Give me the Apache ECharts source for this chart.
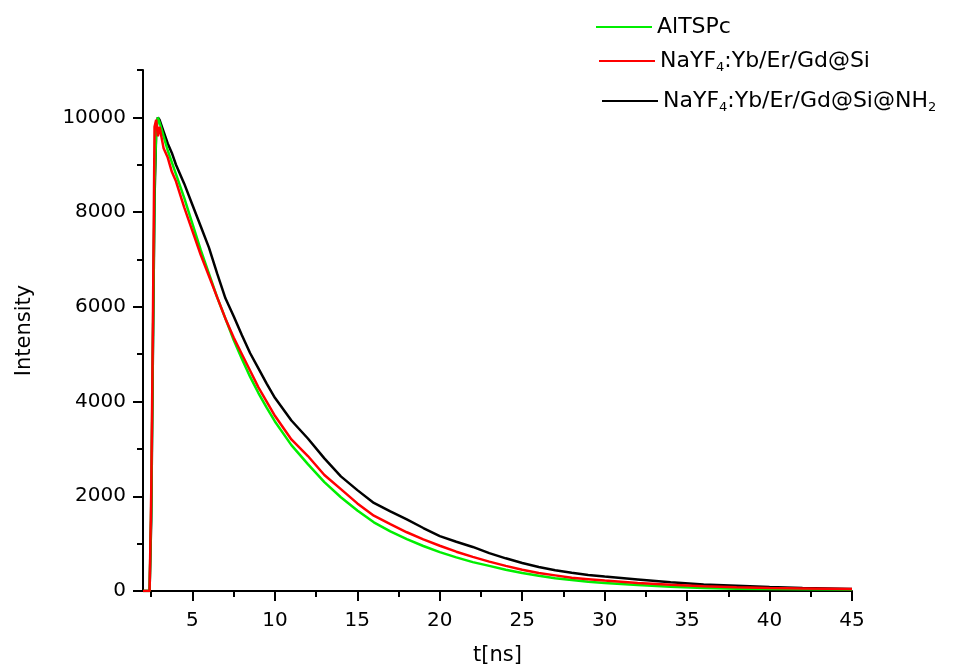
<!DOCTYPE html>
<html>
<head>
<meta charset="utf-8">
<script src="https://cdn.jsdelivr.net/npm/echarts@6/dist/echarts.min.js"></script>
<style>html,body{margin:0;padding:0;background:#fff;}#c{width:972px;height:671px;}</style>
</head>
<body>
<div id="c"></div>
<script>
var times = [2, 2.4, 2.5, 2.6, 2.7, 2.8, 2.9, 3.0, 3.25, 3.5, 3.75, 4, 4.5, 5, 5.5, 6, 6.5, 7, 7.5, 8, 8.5, 9, 9.5, 10, 11, 12, 13, 14, 15, 16, 17, 18, 19, 20, 21, 22, 23, 24, 25, 26, 27, 28, 29, 30, 32, 34, 36, 38, 40, 42, 45];
var alTSPc = [0, 0, 1800, 5200, 8600, 9700, 10000, 9900, 9600, 9300, 9050, 8800, 8300, 7750, 7200, 6700, 6200, 5750, 5300, 4900, 4520, 4180, 3870, 3580, 3080, 2680, 2300, 1980, 1700, 1450, 1260, 1095, 950, 820, 710, 610, 530, 450, 380, 320, 270, 230, 195, 170, 125, 90, 65, 50, 40, 35, 30];
var naSi = [0, 0, 2100, 5600, 9800, 9950, 9600, 9800, 9350, 9150, 8850, 8650, 8100, 7600, 7100, 6650, 6200, 5750, 5350, 5000, 4650, 4300, 4000, 3700, 3200, 2850, 2450, 2150, 1850, 1590, 1410, 1240, 1090, 955, 830, 720, 620, 530, 450, 380, 330, 280, 250, 220, 170, 130, 100, 80, 65, 55, 40];
var naSiNH2 = [0, 0, 1500, 5000, 8300, 9700, 10000, 9950, 9700, 9450, 9250, 9000, 8600, 8150, 7700, 7250, 6700, 6180, 5800, 5400, 5020, 4700, 4380, 4080, 3600, 3220, 2800, 2420, 2130, 1860, 1680, 1510, 1330, 1160, 1040, 930, 800, 690, 590, 505, 440, 385, 340, 305, 245, 185, 135, 110, 85, 65, 42];
var xMajor = [5, 10, 15, 20, 25, 30, 35, 40, 45];
var xMinor = [2.5, 7.5, 12.5, 17.5, 22.5, 27.5, 32.5, 37.5, 42.5];
var yMajor = [0, 2000, 4000, 6000, 8000, 10000];
var yMinor = [1000, 3000, 5000, 7000, 9000, 11000];
var names = ['AlTSPc', 'NaYF4:Yb/Er/Gd@Si', 'NaYF4:Yb/Er/Gd@Si@NH2'];

function pairs(v){ return times.map(function(t,i){ return [t, v[i]]; }); }
var FONT = 'DejaVu Sans';
function fmt(n){ return n.replace('F4', 'F{sub|4}').replace(/NH2$/, 'NH{sub|2}'); }
function legendAt(name, left, top){
  return {
    data: [name], left: left, top: top, orient: 'vertical',
    icon: 'rect', itemWidth: 56, itemHeight: 2, padding: 0,
    formatter: fmt,
    textStyle: {
      fontFamily: FONT, fontSize: 22, color: '#000', lineHeight: 26,
      rich: { sub: { fontFamily: FONT, fontSize: 13, lineHeight: 26, verticalAlign: 'bottom', padding: [12, 0, 0, 0] } }
    }
  };
}
var axisLine = { show: true, lineStyle: { color: '#000', width: 2 } };
var chart = echarts.init(document.getElementById('c'), null, { renderer: 'canvas' });
chart.setOption({
  animation: false,
  backgroundColor: '#fff',
  grid: { left: 143, right: 120, top: 70, bottom: 79, containLabel: false },
  legend: [
    legendAt(names[0], 596, 14),
    legendAt(names[1], 599, 48),
    legendAt(names[2], 602, 88)
  ],
  xAxis: [{
    type: 'value', min: 2, max: 45, position: 'bottom',
    name: 't[ns]', nameLocation: 'middle', nameGap: 54,
    nameTextStyle: { fontFamily: FONT, fontSize: 21, color: '#000' },
    axisLine: axisLine,
    axisTick: { show: true, inside: false, length: 10, customValues: xMajor, lineStyle: { color: '#000', width: 2 } },
    axisLabel: { show: true, customValues: xMajor, margin: 20, fontFamily: FONT, fontSize: 20, color: '#000', formatter: function(v){ return String(v); } },
    splitLine: { show: false }
  }, {
    type: 'value', min: 2, max: 45, position: 'bottom',
    axisLine: { show: false },
    axisTick: { show: true, inside: false, length: 6, customValues: xMinor, lineStyle: { color: '#000', width: 2 } },
    axisLabel: { show: false },
    splitLine: { show: false }
  }],
  yAxis: [{
    type: 'value', min: 0, max: 11000, position: 'left',
    name: 'Intensity', nameLocation: 'middle', nameGap: 108,
    nameTextStyle: { fontFamily: FONT, fontSize: 21, color: '#000' },
    axisLine: axisLine,
    axisTick: { show: true, inside: false, length: 10, customValues: yMajor, lineStyle: { color: '#000', width: 2 } },
    axisLabel: { show: true, customValues: yMajor, margin: 17, fontFamily: FONT, fontSize: 20, color: '#000', formatter: function(v){ return String(v); } },
    splitLine: { show: false }
  }, {
    type: 'value', min: 0, max: 11000, position: 'left',
    axisLine: { show: false },
    axisTick: { show: true, inside: false, length: 6, customValues: yMinor, lineStyle: { color: '#000', width: 2 } },
    axisLabel: { show: false },
    splitLine: { show: false }
  }],
  series: [
    { name: names[2], type: 'line', data: pairs(naSiNH2), showSymbol: false, xAxisIndex: 0, yAxisIndex: 0, lineStyle: { color: '#000000', width: 2.5 }, itemStyle: { color: '#000000' } },
    { name: names[0], type: 'line', data: pairs(alTSPc), showSymbol: false, xAxisIndex: 0, yAxisIndex: 0, lineStyle: { color: '#00ee00', width: 2.5 }, itemStyle: { color: '#00ee00' } },
    { name: names[1], type: 'line', data: pairs(naSi), showSymbol: false, xAxisIndex: 0, yAxisIndex: 0, lineStyle: { color: '#ff0000', width: 2.5 }, itemStyle: { color: '#ff0000' } }
  ]
});
</script>
</body>
</html>
